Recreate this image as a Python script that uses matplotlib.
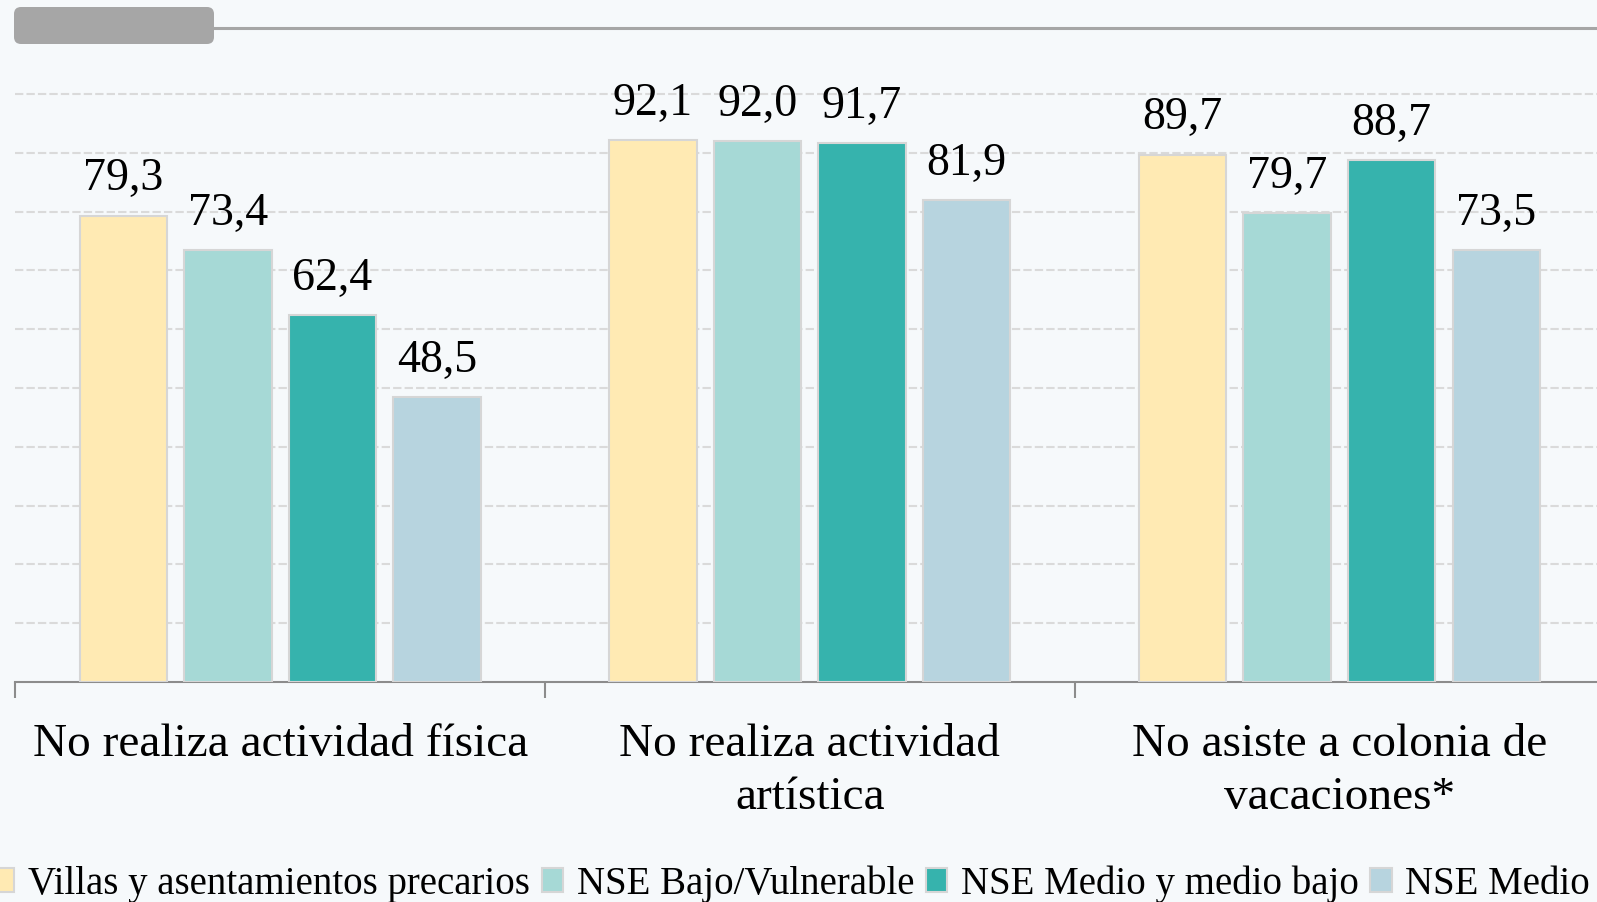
import numpy as np
import matplotlib
matplotlib.use("Agg")
import matplotlib.pyplot as plt
from matplotlib.patches import FancyBboxPatch
from matplotlib.lines import Line2D
from matplotlib.transforms import IdentityTransform

# categorias y series (porcentajes)
categorias = ["No realiza actividad física",
              "No realiza actividad\nartística",
              "No asiste a colonia de\nvacaciones*"]
series = ["Villas y asentamientos precarios", "NSE Bajo/Vulnerable",
          "NSE Medio y medio bajo", "NSE Medio alto"]
valores = [
    [79.3, 92.1, 89.7],
    [73.4, 92.0, 79.7],
    [62.4, 91.7, 88.7],
    [48.5, 81.9, 73.5],
]
colores = ["#ffeab3", "#a6d9d6", "#36b3ad", "#b7d4df"]
fondo = "#f6f9fb"

plt.rcParams['font.family'] = ['Liberation Serif', 'DejaVu Serif']

W, H = 1597, 902
fig = plt.figure(figsize=(W / 100, H / 100), dpi=100, facecolor=fondo)
# axes run past the right edge, like the cropped screenshot
ax = fig.add_axes([15.3 / W, (H - 682) / H, 1589 / W, 611.5 / H])
ax.set_facecolor(fondo)

x = np.arange(len(categorias))
paso, ancho = 0.1975, 0.165
barras = []
for i, (serie, vals) in enumerate(zip(series, valores)):
    pos = x + (i - 1.5) * paso
    b = ax.bar(pos, vals, ancho, color=colores[i], edgecolor="#d6d6d6",
               linewidth=1.5, label=serie, zorder=3)
    barras.append(b)
    for px, v in zip(pos, vals):
        ax.annotate(f"{v:.1f}".replace(".", ","), (px, v), xytext=(0, 11),
                    textcoords="offset points", ha="center", va="bottom",
                    fontsize=33, color="black", zorder=4)

ax.set_xlim(-0.5, 2.5)
ax.set_ylim(0, 104)
ax.set_yticks(np.arange(10, 101, 10))
ax.set_yticklabels([])
ax.tick_params(axis="y", length=0)
ax.yaxis.grid(True, color="#dadada", linestyle=(0, (4, 1.5)), linewidth=1.5)
ax.set_axisbelow(True)

for s in ["top", "right", "left"]:
    ax.spines[s].set_visible(False)
ax.spines["bottom"].set_color("#8c8c8c")
ax.spines["bottom"].set_linewidth(1.5)

ax.set_xticks([-0.5, 0.5, 1.5, 2.5])
ax.set_xticklabels([])
ax.tick_params(axis="x", which="major", length=11.5, width=1.5, color="#8c8c8c")
ax.set_xticks(x, minor=True)
ax.set_xticklabels(categorias, minor=True, fontsize=34, linespacing=1.32)
ax.tick_params(axis="x", which="minor", length=0, pad=30)

# barra gris decorativa del titulo
fig.add_artist(FancyBboxPatch((14 + 7, H - 44 + 7), 200 - 14, 37 - 14,
                              boxstyle="round,pad=7", facecolor="#a6a6a6",
                              edgecolor="none", transform=IdentityTransform()))
fig.add_artist(Line2D([214, W], [H - 28, H - 28], color="#a6a6a6",
                      linewidth=2.2, transform=IdentityTransform()))

fig.legend(handles=barras, labels=series, ncol=4, loc="center left",
           bbox_to_anchor=(-7 / W, 0.02), frameon=False, fontsize=28,
           handlelength=0.55, handleheight=0.55, handletextpad=0.35,
           columnspacing=0.3, borderpad=0, borderaxespad=0)

fig.savefig("out.png", dpi=100, facecolor=fondo)
